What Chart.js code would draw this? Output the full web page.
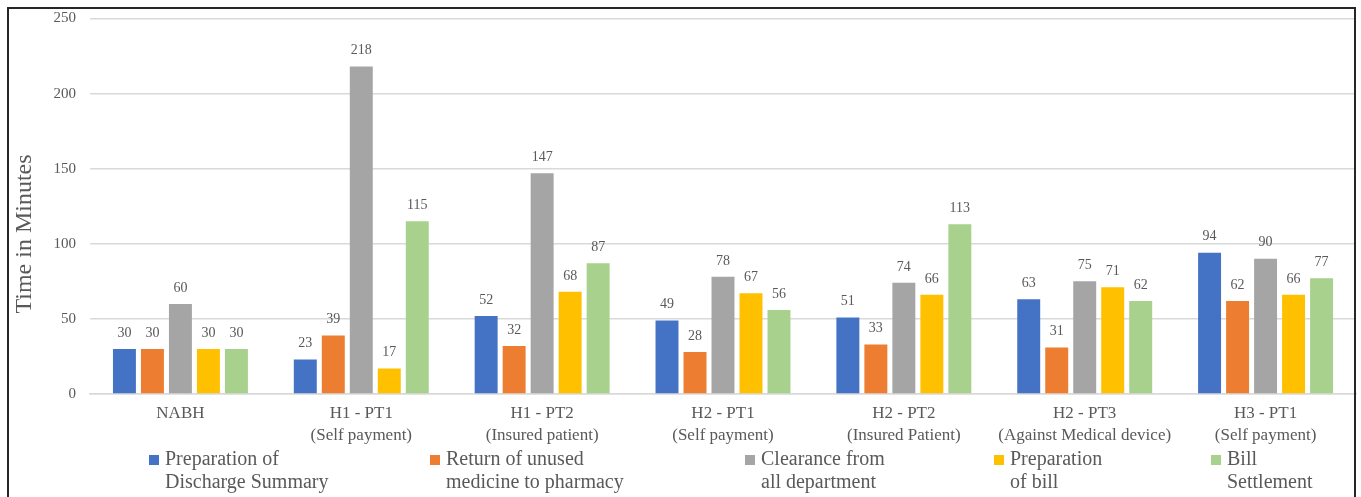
<!DOCTYPE html>
<html>
<head>
<meta charset="utf-8">
<script src="https://cdn.jsdelivr.net/npm/chart.js@4"></script>
<style>
  html, body { margin: 0; padding: 0; background: #ffffff; }
  #wrap { position: relative; width: 1361px; height: 497px; }
  canvas { display: block; }
</style>
</head>
<body>
<div id="wrap"><canvas id="chart" width="1361" height="497"></canvas></div>
<script>
// Discharge process: time taken per step (minutes)
const categories = [
  ['NABH'],
  ['H1 - PT1', '(Self payment)'],
  ['H1 - PT2', '(Insured patient)'],
  ['H2 - PT1', '(Self payment)'],
  ['H2 - PT2', '(Insured Patient)'],
  ['H2 - PT3', '(Against Medical device)'],
  ['H3 - PT1', '(Self payment)']
];

const seriesNames = [
  ['Preparation of', 'Discharge Summary'],
  ['Return of unused', 'medicine to pharmacy'],
  ['Clearance from', 'all department'],
  ['Preparation', 'of bill'],
  ['Bill', 'Settlement']
];

const dischargeSummary = [30, 23, 52, 49, 51, 63, 94];
const returnMedicine   = [30, 39, 32, 28, 33, 31, 62];
const clearanceAllDept = [60, 218, 147, 78, 74, 75, 90];
const billPreparation  = [30, 17, 68, 67, 66, 71, 66];
const billSettlement   = [30, 115, 87, 56, 113, 62, 77];

const yTicks = [0, 50, 100, 150, 200, 250];
const yTitle = 'Time in Minutes';

const seriesValues = [dischargeSummary, returnMedicine, clearanceAllDept, billPreparation, billSettlement];
const seriesColors = ['#4472C4', '#ED7D31', '#A5A5A5', '#FFC000', '#A9D18E'];

const SERIF = "'Liberation Serif', 'Times New Roman', serif";
const TEXT = '#595959';

// frame around the whole figure, plus the vertical axis title
const framePlugin = {
  id: 'frame',
  afterDraw(chart) {
    const ctx = chart.ctx;
    ctx.save();
    ctx.strokeStyle = '#262626';
    ctx.lineWidth = 2;
    ctx.strokeRect(8, 8, 1347, 520);
    ctx.translate(25, 234);
    ctx.rotate(-Math.PI / 2);
    ctx.font = '24px ' + SERIF;
    ctx.fillStyle = TEXT;
    ctx.textAlign = 'center';
    ctx.textBaseline = 'middle';
    ctx.fillText(yTitle, 0, 0);
    ctx.restore();
  }
};

// value printed above every bar
const valueLabels = {
  id: 'valueLabels',
  afterDatasetsDraw(chart) {
    const ctx = chart.ctx;
    ctx.save();
    ctx.font = '14px ' + SERIF;
    ctx.fillStyle = TEXT;
    ctx.textAlign = 'center';
    ctx.textBaseline = 'bottom';
    chart.data.datasets.forEach((ds, i) => {
      chart.getDatasetMeta(i).data.forEach((bar, j) => {
        ctx.fillText(String(ds.data[j]), bar.x, bar.y - 9);
      });
    });
    ctx.restore();
  }
};

// two-line legend under the category axis
const wrappedLegend = {
  id: 'wrappedLegend',
  afterDraw(chart) {
    const ctx = chart.ctx;
    const swatchX = [149, 430, 745, 994, 1211];
    const line1 = chart.chartArea.bottom + 66;
    const line2 = line1 + 23;
    ctx.save();
    ctx.font = '20px ' + SERIF;
    ctx.textBaseline = 'middle';
    ctx.textAlign = 'left';
    chart.data.datasets.forEach((ds, i) => {
      const x = swatchX[i];
      ctx.fillStyle = ds.backgroundColor;
      ctx.fillRect(x, line1 - 5, 10, 10);
      ctx.fillStyle = TEXT;
      ctx.fillText(seriesNames[i][0], x + 16, line1);
      ctx.fillText(seriesNames[i][1], x + 16, line2);
    });
    ctx.restore();
  }
};

new Chart(document.getElementById('chart'), {
  type: 'bar',
  data: {
    labels: categories,
    datasets: seriesValues.map((vals, i) => ({
      label: seriesNames[i].join(' '),
      data: vals,
      backgroundColor: seriesColors[i],
      borderWidth: 0,
      categoryPercentage: 0.774,
      barPercentage: 0.82
    }))
  },
  options: {
    responsive: false,
    animation: false,
    layout: { padding: { top: 17, right: 5, bottom: 41, left: 0 } },
    plugins: {
      legend: { display: false },
      tooltip: { enabled: false }
    },
    scales: {
      x: {
        grid: { display: false },
        border: { display: true, color: '#D9D9D9', width: 1.5 },
        ticks: {
          color: TEXT,
          font: { family: SERIF, size: 17, lineHeight: 1.3 },
          padding: 0,
          maxRotation: 0,
          autoSkip: false
        },
        afterFit(scale) { scale.height = 62; }
      },
      y: {
        min: 0,
        max: 250,
        afterBuildTicks(scale) { scale.ticks = yTicks.map(v => ({ value: v })); },
        grid: { color: '#D9D9D9', lineWidth: 1.5, drawTicks: false },
        border: { display: false },
        ticks: {
          color: TEXT,
          font: { family: SERIF, size: 15, lineHeight: 0.6 },
          padding: 14
        },
        afterFit(scale) { scale.width = 90; }
      }
    }
  },
  plugins: [framePlugin, valueLabels, wrappedLegend]
});
</script>
</body>
</html>
